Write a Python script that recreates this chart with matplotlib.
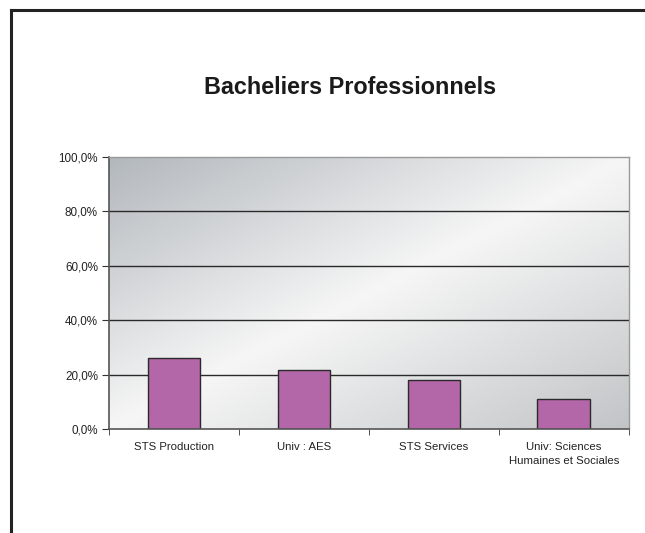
import matplotlib.pyplot as plt
from matplotlib.lines import Line2D
import numpy as np

# Data
categories = ["STS Production", "Univ : AES", "STS Services",
              "Univ: Sciences\nHumaines et Sociales"]
values = [26.1, 21.7, 18.1, 10.9]
yticks = [0, 20, 40, 60, 80, 100]

plt.rcParams['font.family'] = ['Liberation Sans', 'DejaVu Sans']

fig = plt.figure(figsize=(6.45, 5.33), dpi=100)
fig.patch.set_facecolor('white')
ax = fig.add_axes([109 / 645, 1 - 429 / 533, (628.7 - 109) / 645, (429 - 157) / 533])

# diagonal grey "chrome" gradient for the plot area
nx, ny = 300, 160
xx, yy = np.meshgrid(np.linspace(0, 1, nx), np.linspace(0, 1, ny))
t = xx + yy  # 0 top-left, 1 anti-diagonal, 2 bottom-right
dark_tl = np.array([0.70, 0.72, 0.74])
light = np.array([0.965, 0.965, 0.965])
dark_br = np.array([0.76, 0.77, 0.78])
img = np.zeros((ny, nx, 3))
for c in range(3):
    img[..., c] = np.where(t <= 1,
                           dark_tl[c] + (light[c] - dark_tl[c]) * t,
                           light[c] + (dark_br[c] - light[c]) * (t - 1))
ax.imshow(img, extent=[-0.5, 3.5, 0, 100], origin='upper', aspect='auto',
          zorder=0, interpolation='bilinear')
ax.set_ylim(0, 100)
ax.set_xlim(-0.5, 3.5)

for y in yticks[1:-1]:
    ax.axhline(y, color='#2a2a2a', lw=1.0, zorder=1)

x = np.arange(len(categories))
ax.bar(x, values, width=0.405, color='#b366a8', edgecolor='#2a2a2a',
       linewidth=1.0, zorder=2)

ax.set_yticks(yticks)
ax.set_yticklabels(["{:.1f}%".format(v).replace('.', ',') for v in yticks])
ax.set_xticks(x)
ax.set_xticklabels(categories, linespacing=1.6)
ax.set_xticks(np.arange(-0.5, 4, 1), minor=True)
ax.tick_params(axis='x', which='major', length=0, pad=9, labelsize=8.2,
               labelcolor='#222222')
ax.tick_params(axis='x', which='minor', length=4, color='#333333', direction='out')
ax.tick_params(axis='y', length=5, color='#333333', pad=3, labelsize=8.4,
               labelcolor='#222222')

for s in ['left', 'bottom']:
    ax.spines[s].set_color('#555555')
    ax.spines[s].set_linewidth(1.2)
for s in ['top', 'right']:
    ax.spines[s].set_color('#999999')
    ax.spines[s].set_linewidth(1.0)

title = fig.text(350 / 645, 1 - 88 / 533, "Bacheliers Professionnels",
                 ha='center', va='center', fontsize=16.8, fontweight='bold',
                 color='#1a1a1a')

# outer frame (top and left only visible)
fig.add_artist(Line2D([10.5 / 645, 10.5 / 645], [0, 1 - 10 / 533],
                      color='#222222', lw=2.2, transform=fig.transFigure))
fig.add_artist(Line2D([10.5 / 645, 1], [1 - 10 / 533, 1 - 10 / 533],
                      color='#222222', lw=2.2, transform=fig.transFigure))

fig.savefig("out.png", dpi=100)
